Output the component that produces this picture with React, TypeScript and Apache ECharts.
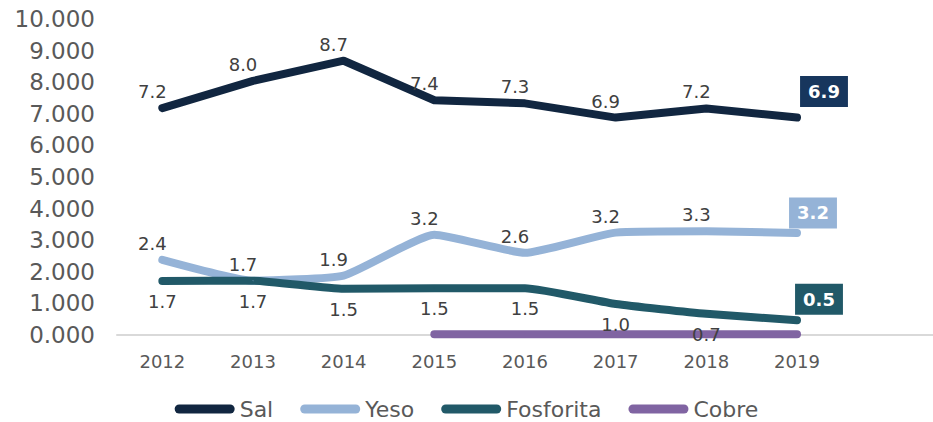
import React, { useEffect, useRef } from "react";
import * as echarts from "echarts";

const categories = ["2012", "2013", "2014", "2015", "2016", "2017", "2018", "2019", ""];
const sal = [7.18, 8.04, 8.68, 7.43, 7.33, 6.88, 7.17, 6.88];
const yeso = [2.38, 1.72, 1.88, 3.17, 2.6, 3.24, 3.28, 3.23];
const fosforita = [1.71, 1.72, 1.46, 1.48, 1.48, 0.98, 0.67, 0.47];
const cobre = [null, null, null, 0.02, 0.02, 0.02, 0.02, 0.02];

const FONT = "DejaVu Sans";
const LABEL_COLOR = "#404040";
const AXIS_TEXT = "#595959";

const legendIcon = "path://M4.5,0 H55.5 A4.5,4.5 0 0 1 55.5,9 H4.5 A4.5,4.5 0 0 1 4.5,0 Z";

function withEndBox(values: (number | null)[], boxColor: string, offset: number[]) {
  const last = values.length - 1;
  return values.map((v, i) =>
    i === last
      ? {
          value: v,
          label: {
            show: true,
            position: "inside",
            offset,
            color: "#ffffff",
            fontWeight: "bold",
            fontSize: 18,
            fontFamily: FONT,
            lineHeight: 21,
            backgroundColor: boxColor,
            padding: [5, 8, 5, 8],
            formatter: (p: any) => Number(p.value).toFixed(1),
          },
        }
      : v
  );
}

export default function App() {
  const ref = useRef<HTMLDivElement>(null);
  useEffect(() => {
    if (!ref.current) return;
    const chart = echarts.init(ref.current, null, { renderer: "svg" });
    const baseLabel = (pos: string, dist: number, off: number[]) => ({
      show: true,
      position: pos,
      distance: dist,
      offset: off,
      color: LABEL_COLOR,
      fontSize: 18,
      fontFamily: FONT,
      lineHeight: 20,
      formatter: (p: any) => Number(p.value).toFixed(1),
    });
    const lineSeries = (name: string, color: string, data: any[], smooth: any, label: any) => ({
      name,
      type: "line",
      data,
      smooth,
      showSymbol: true,
      symbol: "circle",
      symbolSize: 1,
      itemStyle: { color },
      lineStyle: { color, width: 8, cap: "round", join: "round" },
      label,
      emphasis: { disabled: true },
      z: 2,
    });
    chart.setOption({
      animation: false,
      textStyle: { fontFamily: FONT },
      grid: { left: 117, right: 0, top: 19, bottom: 87, containLabel: false },
      legend: {
        data: ["Sal", "Yeso", "Fosforita", "Cobre"],
        top: 398,
        left: "center",
        icon: legendIcon,
        itemWidth: 60,
        itemHeight: 9,
        itemGap: 27,
        padding: 0,
        textStyle: { fontSize: 22, color: AXIS_TEXT, fontFamily: FONT },
      },
      xAxis: {
        type: "category",
        data: categories,
        boundaryGap: true,
        axisLine: { lineStyle: { color: "#D9D9D9", width: 2 } },
        axisTick: { show: false },
        axisLabel: { color: AXIS_TEXT, fontSize: 18, fontFamily: FONT, margin: 17 },
      },
      yAxis: {
        type: "value",
        min: 0,
        max: 10,
        interval: 1,
        splitLine: { show: false },
        axisLine: { show: false },
        axisTick: { show: false },
        axisLabel: {
          color: AXIS_TEXT,
          fontSize: 23,
          fontFamily: FONT,
          margin: 22,
          formatter: (v: number) => v.toFixed(3),
        },
      },
      series: [
        lineSeries("Sal", "#112640", withEndBox(sal, "#17365D", [27, -26]), false, baseLabel("top", 6, [-10, 0])),
        lineSeries("Yeso", "#95B3D7", withEndBox(yeso, "#95B3D7", [16, -20]), 0.15, baseLabel("top", 6, [-10, 0])),
        lineSeries("Fosforita", "#215968", withEndBox(fosforita, "#215968", [22, -21]), 0.15, baseLabel("bottom", 10, [0, 0])),
        lineSeries("Cobre", "#8064A2", cobre, false, { show: false }),
      ],
    });
    return () => chart.dispose();
  }, []);
  return (
    <div
      ref={ref}
      style={{ position: "absolute", left: 0, top: 0, width: 933, height: 422, background: "#ffffff" }}
    />
  );
}
